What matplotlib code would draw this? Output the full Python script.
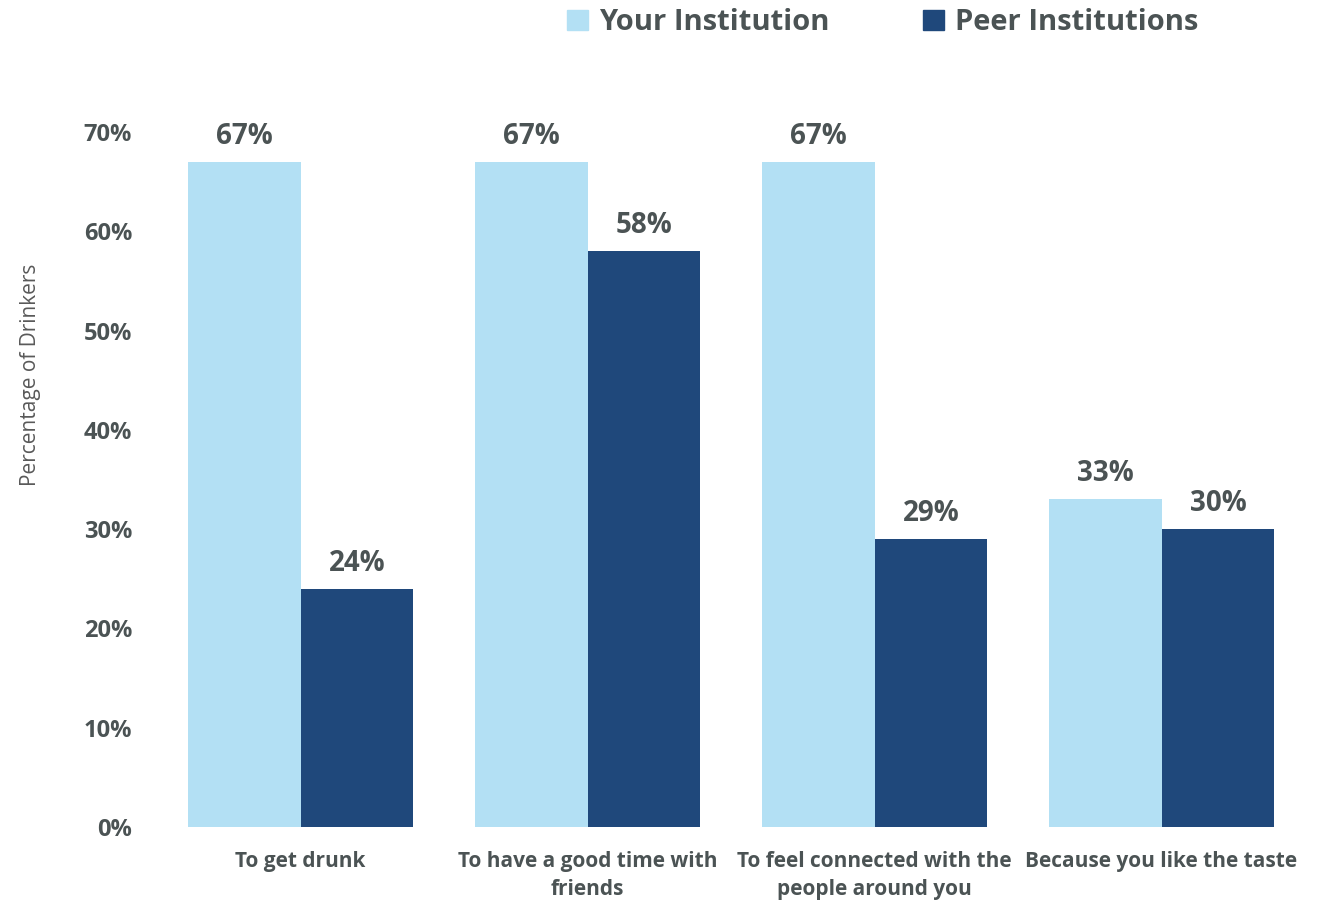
import numpy as np
import matplotlib.pyplot as plt
from matplotlib.patches import Patch

# Data
categories = ['To get drunk', 'To have a good time with\nfriends',
              'To feel connected with the\npeople around you', 'Because you like the taste']
your_inst = [67, 67, 67, 33]
peer_inst = [24, 58, 29, 30]
series_names = ['Your Institution', 'Peer Institutions']
yticks = [0, 10, 20, 30, 40, 50, 60, 70]

light = '#B3E0F4'
dark = '#1F487B'
txt = '#4B5354'

plt.rcParams['font.family'] = ['Open Sans', 'DejaVu Sans']

fig = plt.figure(figsize=(13.34, 9.01), dpi=100)
ax = fig.add_axes([0.1177, 0.0821, 0.8606, 0.7714])

x = np.arange(len(categories))
w = 0.393
b1 = ax.bar(x - w / 2, your_inst, w, color=light)
b2 = ax.bar(x + w / 2, peer_inst, w, color=dark)

for bars in (b1, b2):
    ax.bar_label(bars, labels=[f'{v}%' for v in bars.datavalues], padding=8,
                 fontsize=20, fontweight='bold', color=txt)

ax.set_xlim(-0.5, len(categories) - 0.5)
ax.set_ylim(0, 70)
ax.set_yticks(yticks)
ax.set_yticklabels([f'{t}%' for t in yticks], fontsize=17, fontweight='bold', color=txt)
ax.set_xticks(x)
ax.set_xticklabels(categories, fontsize=15, fontweight='bold', color=txt, linespacing=1.45)
ax.tick_params(axis='y', length=0, pad=18)
ax.tick_params(axis='x', length=0, pad=17)
for s in ax.spines.values():
    s.set_visible(False)

fig.text(0.023, 0.584, 'Percentage of Drinkers', rotation=90, fontsize=15,
         color='#595959', ha='center', va='center')

handles = [Patch(color=light), Patch(color=dark)]
fig.legend(handles, series_names, loc='center', bbox_to_anchor=(0.662, 0.975),
           ncol=2, frameon=False, prop={'size': 21, 'weight': 'bold'},
           labelcolor=txt, columnspacing=3.2, handlelength=0.7, handleheight=0.7,
           handletextpad=0.4)

fig.savefig('out.png', dpi=100)
